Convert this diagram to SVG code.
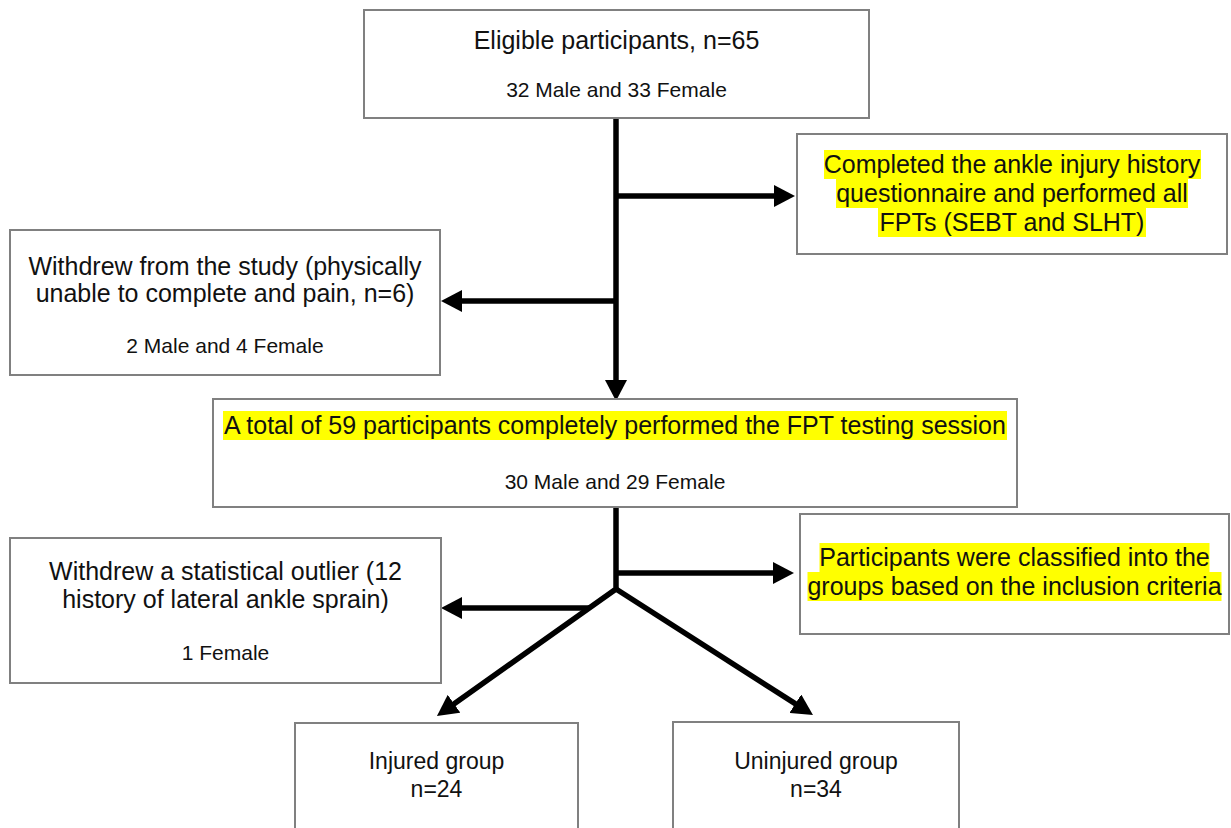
<svg xmlns="http://www.w3.org/2000/svg" width="1231" height="828" viewBox="0 0 1231 828">
  <style>
    .box { fill: #ffffff; stroke: #808080; stroke-width: 2; }
    .t { font-family: "Liberation Sans", Arial, sans-serif; font-size: 25px; fill: #111111; text-anchor: middle; }
    .s { font-family: "Liberation Sans", Arial, sans-serif; font-size: 21px; fill: #111111; text-anchor: middle; }
    .g { font-family: "Liberation Sans", Arial, sans-serif; font-size: 23px; fill: #111111; text-anchor: middle; }
    .hl { fill: #ffff00; }
    .c { fill: none; stroke: #000000; stroke-width: 5.5; stroke-linejoin: miter; }
  </style>
  <defs>
    <marker id="ah" markerWidth="22" markerHeight="22" refX="5" refY="11" orient="auto" markerUnits="userSpaceOnUse">
      <path d="M0,0 L21,11 L0,22 z" fill="#000000"/>
    </marker>
  </defs>
  <rect width="1231" height="828" fill="#ffffff"/>

  <g id="connectors">
    <path class="c" d="M616,118 L616,385" marker-end="url(#ah)"/>
    <path class="c" d="M616,196 L779,196" marker-end="url(#ah)"/>
    <path class="c" d="M616,301 L457,301" marker-end="url(#ah)"/>
    <path class="c" d="M616,507 L616,589 L450,706.7" marker-end="url(#ah)"/>
    <path class="c" d="M616,589 L799.5,706.4" marker-end="url(#ah)"/>
    <path class="c" d="M616,573 L778,573" marker-end="url(#ah)"/>
    <path class="c" d="M589,608 L457,608" marker-end="url(#ah)"/>
  </g>

  <g id="eligible">
    <rect class="box" x="364" y="10" width="505" height="108"/>
    <text class="t" x="616.5" y="49">Eligible participants, n=65</text>
    <text class="s" x="616.5" y="97">32 Male and 33 Female</text>
  </g>

  <g id="completed">
    <rect class="box" x="797" y="134" width="430" height="120"/>
    <rect class="hl" x="824" y="150" width="377" height="29"/>
    <rect class="hl" x="836" y="179" width="352" height="29"/>
    <rect class="hl" x="878" y="208" width="268" height="29"/>
    <text class="t" x="1012" y="172.6">Completed the ankle injury history</text>
    <text class="t" x="1012" y="201.6">questionnaire and performed all</text>
    <text class="t" x="1012" y="230.6">FPTs (SEBT and SLHT)</text>
  </g>

  <g id="withdrew">
    <rect class="box" x="10" y="230" width="430" height="145"/>
    <text class="t" x="225" y="275">Withdrew from the study (physically</text>
    <text class="t" x="225" y="302">unable to complete and pain, n=6)</text>
    <text class="s" x="225" y="353">2 Male and 4 Female</text>
  </g>

  <g id="total">
    <rect class="box" x="213" y="399" width="804" height="108"/>
    <rect class="hl" x="223" y="411" width="784" height="29"/>
    <text class="t" x="615" y="433.6">A total of 59 participants completely performed the FPT testing session</text>
    <text class="s" x="615" y="489">30 Male and 29 Female</text>
  </g>

  <g id="classified">
    <rect class="box" x="800" y="514" width="429" height="120"/>
    <rect class="hl" x="819.5" y="543" width="390" height="29"/>
    <rect class="hl" x="807.5" y="572" width="414" height="29"/>
    <text class="t" x="1014.5" y="565.6">Participants were classified into the</text>
    <text class="t" x="1014.5" y="594.6">groups based on the inclusion criteria</text>
  </g>

  <g id="outlier">
    <rect class="box" x="10" y="538" width="431" height="145"/>
    <text class="t" x="225.5" y="580">Withdrew a statistical outlier (12</text>
    <text class="t" x="225.5" y="608">history of lateral ankle sprain)</text>
    <text class="s" x="225.5" y="660">1 Female</text>
  </g>

  <g id="injured">
    <rect class="box" x="295" y="723" width="283" height="130"/>
    <text class="g" x="436.5" y="769">Injured group</text>
    <text class="g" x="436.5" y="797">n=24</text>
  </g>

  <g id="uninjured">
    <rect class="box" x="673" y="722" width="286" height="130"/>
    <text class="g" x="816" y="769">Uninjured group</text>
    <text class="g" x="816" y="797">n=34</text>
  </g>
</svg>
